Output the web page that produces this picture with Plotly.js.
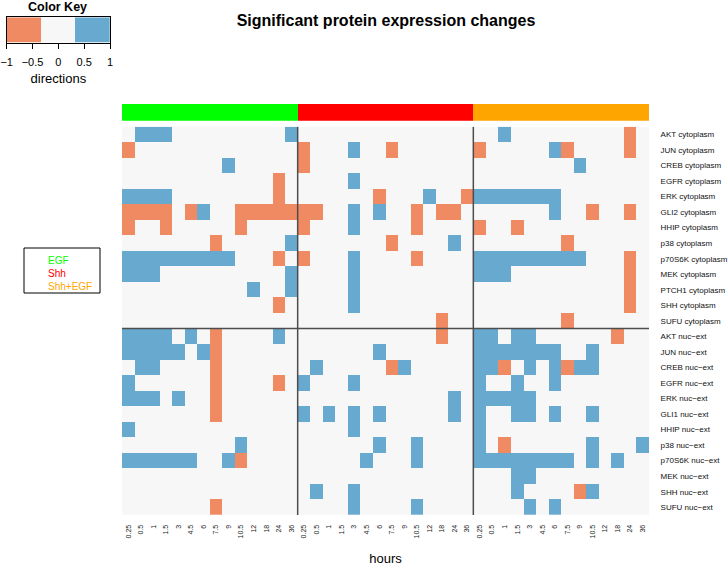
<!DOCTYPE html>
<html>
<head>
<meta charset="utf-8">
<script src="https://cdn.plot.ly/plotly-3.0.1.min.js"></script>
<style>html,body{margin:0;padding:0;background:#fff}#chart{width:728px;height:566px}</style>
</head>
<body>
<div id="chart"></div>
<script>
// ---- data ----
const groups = ["EGF", "Shh", "Shh+EGF"];
const groupColors = ["#00FF00", "#FF0000", "#FFA500"];
const times = ["0.25","0.5","1","1.5","3","4.5","6","7.5","9","10.5","12","18","24","36"];
const rowLabels = [
  "AKT cytoplasm","JUN cytoplasm","CREB cytoplasm","EGFR cytoplasm","ERK cytoplasm","GLI2 cytoplasm",
  "HHIP cytoplasm","p38 cytoplasm","p70S6K cytoplasm","MEK cytoplasm","PTCH1 cytoplasm","SHH cytoplasm",
  "SUFU cytoplasm","AKT nuc\u2212ext","JUN nuc\u2212ext","CREB nuc\u2212ext","EGFR nuc\u2212ext","ERK nuc\u2212ext",
  "GLI1 nuc\u2212ext","HHIP nuc\u2212ext","p38 nuc\u2212ext","p70S6K nuc\u2212ext","MEK nuc\u2212ext","SHH nuc\u2212ext","SUFU nuc\u2212ext"
];
const cytoplasmCount = 13;
// direction of change: -1 down, 0 none, 1 up
const egf = [
  [0,1,1,1,0,0,0,0,0,0,0,0,0,1],
  [-1,0,0,0,0,0,0,0,0,0,0,0,0,0],
  [0,0,0,0,0,0,0,0,1,0,0,0,0,0],
  [0,0,0,0,0,0,0,0,0,0,0,0,-1,0],
  [1,1,1,1,0,0,0,0,0,0,0,0,-1,0],
  [-1,-1,-1,-1,0,-1,1,0,0,-1,-1,-1,-1,-1],
  [-1,0,0,-1,0,0,0,0,0,-1,0,0,0,0],
  [0,0,0,0,0,0,0,-1,0,0,0,0,0,1],
  [1,1,1,1,1,1,1,1,1,0,0,0,-1,0],
  [1,1,1,0,0,0,0,0,0,0,0,0,0,1],
  [0,0,0,0,0,0,0,0,0,0,1,0,0,1],
  [0,0,0,0,0,0,0,0,0,0,0,0,-1,0],
  [0,0,0,0,0,0,0,0,0,0,0,0,0,0],
  [1,1,1,1,0,1,0,-1,0,0,0,0,1,0],
  [1,1,1,1,1,0,1,-1,0,0,0,0,0,0],
  [0,1,1,0,0,0,0,-1,0,0,0,0,0,0],
  [1,0,0,0,0,0,0,-1,0,0,0,0,-1,0],
  [1,1,1,0,1,0,0,-1,0,0,0,0,0,0],
  [0,0,0,0,0,0,0,-1,0,0,0,0,0,0],
  [1,0,0,0,0,0,0,0,0,0,0,0,0,0],
  [0,0,0,0,0,0,0,0,0,1,0,0,0,0],
  [1,1,1,1,1,1,0,0,1,-1,0,0,0,0],
  [0,0,0,0,0,0,0,0,0,0,0,0,0,0],
  [0,0,0,0,0,0,0,0,0,0,0,0,0,0],
  [0,0,0,0,0,0,0,-1,0,0,0,0,0,0]
];
const shh = [
  [0,0,0,0,0,0,0,0,0,0,0,0,0,0],
  [-1,0,0,0,1,0,0,-1,0,0,0,0,0,0],
  [-1,0,0,0,0,0,0,0,0,0,0,0,0,0],
  [0,0,0,0,1,0,0,0,0,0,0,0,0,0],
  [0,0,0,0,0,0,-1,0,0,0,1,0,0,-1],
  [-1,-1,0,0,1,0,1,0,0,-1,0,-1,-1,0],
  [-1,0,0,0,1,0,0,0,0,-1,0,0,0,0],
  [0,0,0,0,0,0,0,-1,0,0,0,0,1,0],
  [-1,0,0,0,1,0,0,0,0,-1,0,0,0,0],
  [0,0,0,0,1,0,0,0,0,0,0,0,0,0],
  [0,0,0,0,1,0,0,0,0,0,0,0,0,0],
  [0,0,0,0,1,0,0,0,0,0,0,0,0,0],
  [0,0,0,0,0,0,0,0,0,0,0,-1,0,0],
  [0,0,0,0,0,0,0,0,0,0,0,-1,0,0],
  [0,0,0,0,0,0,1,0,0,0,0,0,0,0],
  [0,1,0,0,0,0,0,-1,1,0,0,0,0,0],
  [1,0,0,0,1,0,0,0,0,0,0,0,0,0],
  [0,0,0,0,0,0,0,0,0,0,0,0,1,0],
  [1,0,1,0,1,0,1,0,0,0,0,0,1,0],
  [0,0,0,0,1,0,0,0,0,0,0,0,0,0],
  [0,0,0,0,0,0,1,0,0,1,0,0,0,0],
  [0,0,0,0,0,1,0,0,0,1,0,0,0,0],
  [0,0,0,0,0,0,0,0,0,0,0,0,0,0],
  [0,1,0,0,1,0,0,0,0,0,0,0,0,0],
  [0,0,0,0,1,0,0,0,0,1,0,0,0,0]
];
const shhEgf = [
  [0,0,1,0,0,0,0,0,0,0,0,0,-1,0],
  [-1,0,0,0,0,0,1,-1,0,0,0,0,-1,0],
  [0,0,0,0,0,0,0,0,1,0,0,0,0,0],
  [0,0,0,0,0,0,0,0,0,0,0,0,0,0],
  [1,1,1,1,1,1,1,0,0,0,0,0,0,0],
  [0,0,0,0,0,0,1,0,0,-1,0,0,-1,0],
  [-1,0,0,-1,0,0,0,0,0,0,0,0,0,0],
  [0,0,0,0,0,0,0,-1,0,0,0,0,0,0],
  [1,1,1,1,1,1,1,1,1,0,0,0,-1,0],
  [1,1,1,0,0,0,0,0,0,0,0,0,-1,0],
  [0,0,0,0,0,0,0,0,0,0,0,0,-1,0],
  [0,0,0,0,0,0,0,0,0,0,0,0,-1,0],
  [0,0,0,0,0,0,0,-1,0,0,0,0,0,0],
  [1,1,0,1,1,0,0,0,0,0,0,-1,0,0],
  [1,1,1,1,1,1,1,0,0,1,0,0,0,0],
  [1,1,-1,0,1,0,1,-1,1,1,0,0,0,0],
  [1,0,0,1,0,0,1,0,0,0,0,0,0,0],
  [1,1,1,1,1,0,0,0,0,0,0,0,0,0],
  [1,0,0,1,1,0,1,0,0,1,0,0,0,0],
  [1,0,0,0,0,0,0,0,0,0,0,0,0,0],
  [1,0,-1,0,0,0,0,0,0,1,0,0,0,1],
  [1,1,1,1,1,1,1,1,0,1,0,1,0,0],
  [0,0,0,1,1,0,0,0,0,0,0,0,0,0],
  [0,0,0,1,0,0,0,0,-1,1,0,0,0,0],
  [0,0,0,0,1,0,1,0,0,0,0,0,0,0]
];
const keyEdges = [-1, -1/3, 1/3, 1];
const keyValues = [-1, 0, 1];
const dirColors = ["#EF8A62", "#F7F7F7", "#67A9CF"];

// ---- build ----
const nT = times.length;
const nCols = nT * groups.length;
const z = rowLabels.map((_, i) => egf[i].concat(shh[i], shhEgf[i]));
const xIdx = Array.from({length: nCols}, (_, k) => k);
const yIdx = rowLabels.map((_, i) => i);
const tickText = [];
groups.forEach(() => times.forEach(t => tickText.push(t)));
const groupRow = [];
groups.forEach((g, gi) => times.forEach(() => groupRow.push(gi)));

const dirScale = [[0, dirColors[0]], [1/3, dirColors[0]], [1/3, dirColors[1]], [2/3, dirColors[1]], [2/3, dirColors[2]], [1, dirColors[2]]];
const grpScale = [[0, groupColors[0]], [1/3, groupColors[0]], [1/3, groupColors[1]], [2/3, groupColors[1]], [2/3, groupColors[2]], [1, groupColors[2]]];

const W = 728, H = 566;
const px = v => v / W, py = v => 1 - v / H;
const FONT = "Liberation Sans, Arial, Helvetica, sans-serif";

const traces = [
  {type: "heatmap", x: xIdx, y: yIdx, z: z, zmin: -1, zmax: 1, colorscale: dirScale,
   showscale: false, hoverinfo: "skip", xaxis: "x", yaxis: "y"},
  {type: "heatmap", x: xIdx, y: [0], z: [groupRow], zmin: 0, zmax: 2, colorscale: grpScale,
   showscale: false, hoverinfo: "skip", xaxis: "x", yaxis: "y2"},
  {type: "heatmap", x: keyEdges, y: [0, 1], z: [keyValues], zmin: -1, zmax: 1, colorscale: dirScale,
   showscale: false, hoverinfo: "skip", xaxis: "x3", yaxis: "y3"}
];

const shapes = [];
for (let g = 1; g < groups.length; g++) {
  shapes.push({type: "line", xref: "x", yref: "y", x0: g * nT - 0.5, x1: g * nT - 0.5,
    y0: -0.5, y1: rowLabels.length - 0.5, line: {color: "#4d4d4d", width: 1.5}});
}
shapes.push({type: "line", xref: "x", yref: "y", x0: -0.5, x1: nCols - 0.5,
  y0: cytoplasmCount - 0.5, y1: cytoplasmCount - 0.5, line: {color: "#4d4d4d", width: 1.5}});
shapes.push({type: "rect", xref: "paper", yref: "paper", x0: px(24), x1: px(100), y0: py(293), y1: py(248),
  line: {color: "#000", width: 1}});

const legendText = groups.map((g, gi) => '<span style="color:' + groupColors[gi] + '">' + g + '</span>').join("<br>");
const annotations = [
  {text: "<b>Color Key</b>", xref: "paper", yref: "paper", x: px(58), y: py(7), showarrow: false,
   font: {size: 12.5, color: "#000", family: FONT}, xanchor: "center", yanchor: "middle"},
  {text: legendText, xref: "paper", yref: "paper", x: px(46), y: py(273), showarrow: false,
   xanchor: "left", yanchor: "middle", align: "left", font: {size: 10, color: "#000", family: FONT}}
];

const layout = {
  width: W, height: H,
  margin: {l: 0, r: 0, t: 0, b: 0},
  paper_bgcolor: "#fff", plot_bgcolor: "#fff",
  font: {family: FONT, color: "#000"},
  title: {text: "<b>Significant protein expression changes</b>", x: px(386), xanchor: "center",
    y: py(20), yanchor: "middle", font: {size: 16, family: FONT, color: "#000"}},
  xaxis: {domain: [px(122), px(649)], anchor: "y", range: [-0.5, nCols - 0.5],
    tickmode: "array", tickvals: xIdx, ticktext: tickText, tickangle: -90,
    tickfont: {size: 7, color: "#222"}, ticks: "outside", ticklen: 6, tickcolor: "rgba(0,0,0,0)",
    showgrid: false, zeroline: false, showline: false,
    title: {text: "hours", font: {size: 13, color: "#000"}, standoff: 17}},
  yaxis: {domain: [py(515), py(126.7)], anchor: "x", range: [rowLabels.length - 0.5, -0.5],
    side: "right", tickmode: "array", tickvals: yIdx, ticktext: rowLabels,
    tickfont: {size: 8, color: "#111"}, ticks: "outside", ticklen: 9, tickcolor: "rgba(0,0,0,0)",
    showgrid: false, zeroline: false, showline: false},
  yaxis2: {domain: [py(120.7), py(104)], anchor: "x", range: [-0.5, 0.5], visible: false, showgrid: false},
  xaxis3: {domain: [px(6.7), px(110)], anchor: "y3", range: [-1, 1],
    tickmode: "array", tickvals: [-1, -0.5, 0, 0.5, 1], ticks: "outside", ticklen: 5, tickcolor: "#000",
    ticklabelstandoff: 4,
    tickfont: {size: 11, color: "#000"}, showline: true, mirror: true, linecolor: "#000", linewidth: 1,
    showgrid: false, zeroline: false,
    title: {text: "directions", font: {size: 13, color: "#000"}, standoff: 6}},
  yaxis3: {domain: [py(42.7), py(17.3)], anchor: "x3", range: [0, 1], showticklabels: false, ticks: "",
    showline: true, mirror: true, linecolor: "#000", linewidth: 1, showgrid: false, zeroline: false},
  shapes: shapes,
  annotations: annotations,
  showlegend: false
};

Plotly.newPlot("chart", traces, layout, {staticPlot: true, displayModeBar: false});
</script>
</body>
</html>
